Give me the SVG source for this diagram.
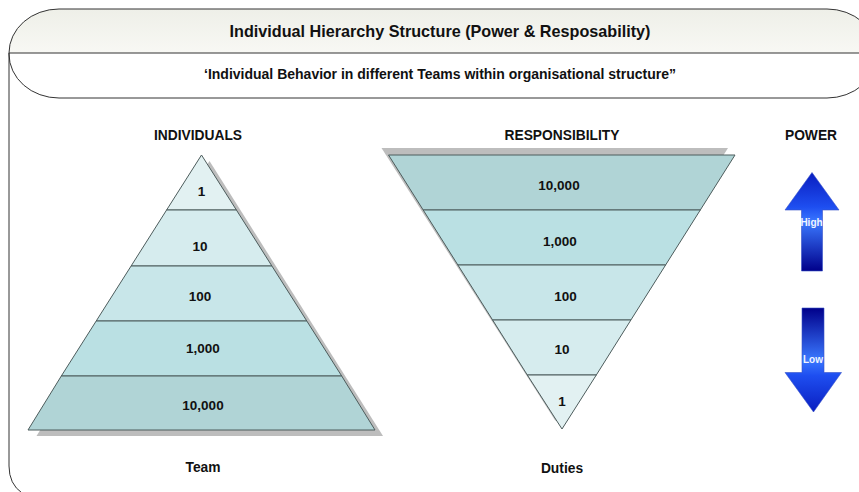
<svg xmlns="http://www.w3.org/2000/svg" width="859" height="492" viewBox="0 0 859 492">
  <defs>
    <linearGradient id="hdrFill" x1="0" y1="0" x2="0" y2="1">
      <stop offset="0" stop-color="#eeefe8"/>
      <stop offset="1" stop-color="#f8f8f4"/>
    </linearGradient>
    <linearGradient id="upFill" x1="0" y1="0" x2="0" y2="1">
      <stop offset="0" stop-color="#0a1ec0"/>
      <stop offset="0.35" stop-color="#1e4ef0"/>
      <stop offset="0.5" stop-color="#3a78ff"/>
      <stop offset="1" stop-color="#00008a"/>
    </linearGradient>
    <linearGradient id="downFill" x1="0" y1="0" x2="0" y2="1">
      <stop offset="0" stop-color="#00008a"/>
      <stop offset="0.5" stop-color="#3a78ff"/>
      <stop offset="0.65" stop-color="#1e4ef0"/>
      <stop offset="1" stop-color="#0a1ec0"/>
    </linearGradient>
    <style>
      .frame { fill: none; stroke: #333; stroke-width: 1; }
      .layer { stroke: #4d5c5c; stroke-width: 1; }
      .shadow { fill: #bdbdbd; }
      .l1 { fill: #e2f1f2; }
      .l2 { fill: #d6ecee; }
      .l3 { fill: #c8e6e9; }
      .l4 { fill: #bae0e3; }
      .l5 { fill: #b0d4d6; }
      text { font-family: "Liberation Sans", Arial, sans-serif; font-weight: bold; fill: #111; text-anchor: middle; }
      .num { font-size: 13.5px; }
      .head { font-size: 13.8px; }
      .arrowTxt { font-size: 10px; fill: #f0f4ff; }
    </style>
  </defs>

  <!-- title banner -->
  <g id="banner">
    <path d="M9,53 A50,44 0 0 1 59,9 L827,9 A50,44 0 0 1 877,53 Z" fill="url(#hdrFill)"/>
    <rect x="9" y="9" width="868" height="89" rx="50" ry="44" class="frame"/>
    <line x1="9" y1="53" x2="859" y2="53" class="frame"/>
    <path d="M9,53 L9,466 Q9,484 22,493" class="frame"/>
    <text x="440" y="36.5" style="font-size:16.2px">Individual Hierarchy Structure (Power &amp; Resposability)</text>
    <text x="440" y="78.5" style="font-size:14px">‘Individual Behavior in different Teams within organisational structure”</text>
  </g>

  <!-- individuals pyramid -->
  <g id="individuals">
    <text x="198" y="140" class="head">INDIVIDUALS</text>
    <polygon points="209.5,161 383,436 36.5,436" class="shadow"/>
    <polygon points="201.5,155 166.6,210 236.4,210" class="layer l1"/>
    <polygon points="166.6,210 236.4,210 271.9,266 131.1,266" class="layer l2"/>
    <polygon points="131.1,266 271.9,266 306.8,321 96.2,321" class="layer l3"/>
    <polygon points="96.2,321 306.8,321 341.7,376 61.3,376" class="layer l4"/>
    <polygon points="61.3,376 341.7,376 375,430 28,430" class="layer l5"/>
    <text x="201.5" y="196" class="num">1</text>
    <text x="200" y="251" class="num">10</text>
    <text x="200" y="301" class="num">100</text>
    <text x="203" y="352.5" class="num">1,000</text>
    <text x="203" y="409.5" class="num">10,000</text>
    <text x="203" y="472" class="head">Team</text>
  </g>

  <!-- responsibility inverted pyramid -->
  <g id="responsibility">
    <text x="562" y="140" class="head">RESPONSIBILITY</text>
    <polygon points="381.5,148 728,148 555.5,421" class="shadow"/>
    <polygon points="388.5,155 735,155 700.3,210 423.2,210" class="layer l5"/>
    <polygon points="423.2,210 700.3,210 665.6,265 457.9,265" class="layer l4"/>
    <polygon points="457.9,265 665.6,265 630.9,320 492.6,320" class="layer l3"/>
    <polygon points="492.6,320 630.9,320 596.3,375 527.3,375" class="layer l2"/>
    <polygon points="527.3,375 596.3,375 562,429" class="layer l1"/>
    <text x="559" y="189.5" class="num">10,000</text>
    <text x="560" y="246" class="num">1,000</text>
    <text x="565.5" y="301" class="num">100</text>
    <text x="562" y="353.5" class="num">10</text>
    <text x="562" y="406" class="num">1</text>
    <text x="562" y="473" class="head">Duties</text>
  </g>

  <!-- power arrows -->
  <g id="power">
    <text x="811" y="140" class="head">POWER</text>
    <polygon points="812,172.5 839,210 822.5,210 822.5,271 801.5,271 801.5,210 785,210" fill="url(#upFill)" stroke="#3550c8" stroke-width="0.6"/>
    <text x="811.5" y="225.5" class="arrowTxt">High</text>
    <polygon points="802,308 824,308 824,372.5 841.5,372.5 813.5,412 785,372.5 802,372.5" fill="url(#downFill)" stroke="#3550c8" stroke-width="0.6"/>
    <text x="813" y="362.5" class="arrowTxt">Low</text>
  </g>
</svg>
